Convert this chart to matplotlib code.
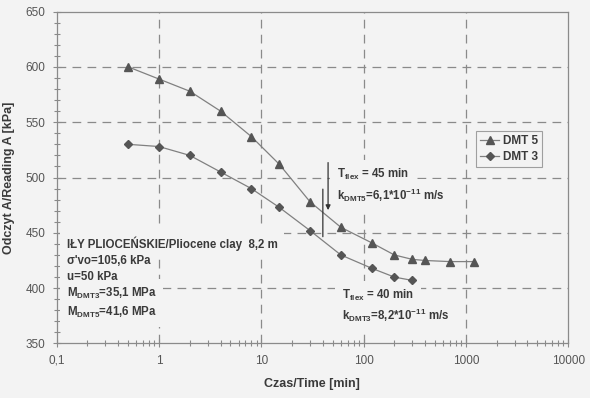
import matplotlib
matplotlib.use("Agg")
import matplotlib.pyplot as plt
from matplotlib.ticker import FixedLocator, MultipleLocator, LogLocator, NullFormatter

# ---------------- DATA ----------------
t_dmt5 = [0.5, 1, 2, 4, 8, 15, 30, 60, 120, 200, 300, 400, 700, 1200]
a_dmt5 = [600, 589, 578, 560, 537, 512, 478, 455, 441, 430, 426, 425, 424, 424]
t_dmt3 = [0.5, 1, 2, 4, 8, 15, 30, 60, 120, 200, 300]
a_dmt3 = [530, 528, 520, 505, 490, 473, 452, 430, 418, 410, 407]

x_ticks = [0.1, 1, 10, 100, 1000, 10000]
x_labels = ["0,1", "1", "10", "100", "1000", "10000"]

info = ["IŁY PLIOCEŃSKIE/Pliocene clay  8,2 m",
        "σ'vo=105,6 kPa",
        "u=50 kPa",
        r"M$_{\mathrm{DMT3}}$=35,1 MPa",
        r"M$_{\mathrm{DMT5}}$=41,6 MPa"]
info_y = [440.5, 424.5, 410.4, 395.3, 378.4]

flex_text = ["T$_{\\mathrm{flex}}$ = 45 min",
             "k$_{\\mathrm{DMT5}}$=6,1*10$^{\\mathrm{-11}}$ m/s",
             "T$_{\\mathrm{flex}}$ = 40 min",
             "k$_{\\mathrm{DMT3}}$=8,2*10$^{\\mathrm{-11}}$ m/s"]
flex_x = [55, 55, 61, 61]
flex_y = [502.4, 484.3, 393.6, 375]

BG = "#f3f3f3"
TXT = "#3a3a3a"
AX = "#8a8a8a"

plt.rcParams['font.family'] = ['Liberation Sans', 'DejaVu Sans']
plt.rcParams['mathtext.fontset'] = 'custom'
plt.rcParams['mathtext.rm'] = 'Liberation Sans:bold'
plt.rcParams['mathtext.bf'] = 'Liberation Sans:bold'
plt.rcParams['mathtext.it'] = 'Liberation Sans:bold'

fig = plt.figure(figsize=(5.9, 3.98), dpi=100, facecolor=BG)
ax = fig.add_axes([0.096, 0.137, 0.867, 0.834], facecolor=BG)

ax.set_xscale('log')
ax.set_xlim(0.1, 10000)
ax.set_ylim(350, 650)

# grid (dashed, major only)
for gx in [1, 10, 100, 1000]:
    ax.axvline(gx, color=AX, lw=0.9, ls=(0, (7, 5)), zorder=1)
for gy in [400, 450, 500, 550, 600]:
    ax.axhline(gy, color=AX, lw=0.9, ls=(0, (7, 5)), zorder=1)

# series
ax.plot(t_dmt5, a_dmt5, color="#808080", lw=0.9, marker='^', ms=5.5,
        mfc="#555555", mec="#555555", label="DMT 5", zorder=4)
ax.plot(t_dmt3, a_dmt3, color="#808080", lw=0.9, marker='D', ms=3.8,
        mfc="#555555", mec="#555555", label="DMT 3", zorder=4)

# ticks
ax.xaxis.set_major_locator(FixedLocator(x_ticks))
ax.set_xticklabels(x_labels)
ax.xaxis.set_minor_locator(LogLocator(base=10, subs=range(2, 10)))
ax.xaxis.set_minor_formatter(NullFormatter())
ax.yaxis.set_major_locator(MultipleLocator(50))
ax.yaxis.set_minor_locator(MultipleLocator(10))
ax.tick_params(which='both', direction='inout', colors=AX, labelcolor="#555555",
               labelsize=8.5, width=0.8)
ax.tick_params(which='major', length=6, pad=5)
ax.tick_params(which='minor', length=4)
for s in ax.spines.values():
    s.set_color(AX)
    s.set_linewidth(0.9)

ax.set_xlabel("Czas/Time [min]", color=TXT, fontsize=9, fontweight='bold', labelpad=8)
ax.set_ylabel("Odczyt A/Reading A [kPa]", color=TXT, fontsize=9, fontweight='bold', labelpad=8)


def label(x, y, s):
    # background mask first (hidden text), then the visible text on top
    ax.text(x, y, s, color='none', fontsize=8.3, fontweight='bold', va='center',
            ha='left', bbox=dict(facecolor=BG, edgecolor='none', pad=5), zorder=2)
    ax.text(x, y, s, color=TXT, fontsize=8.3, fontweight='bold', va='center',
            ha='left', zorder=3)


for line, yy in zip(info, info_y):
    label(0.125, yy, line)
for s, xx, yy in zip(flex_text, flex_x, flex_y):
    label(xx, yy, s)

ax.annotate("", xy=(45, 468), xytext=(45, 516),
            arrowprops=dict(arrowstyle='-|>', color="#333333", lw=0.9, mutation_scale=7),
            zorder=5)
ax.annotate("", xy=(40, 444), xytext=(40, 492),
            arrowprops=dict(arrowstyle='-', color="#333333", lw=0.9),
            zorder=5)

leg = ax.legend(loc='upper left', bbox_to_anchor=(0.82, 0.64), fontsize=8.5,
                frameon=True, fancybox=False, handlelength=1.6, handletextpad=0.3,
                borderpad=0.35, labelspacing=0.35, borderaxespad=0)
leg.get_frame().set_edgecolor(AX)
leg.get_frame().set_facecolor(BG)
leg.get_frame().set_linewidth(0.8)
for t in leg.get_texts():
    t.set_color(TXT)
    t.set_fontweight('bold')

fig.savefig("out.png", dpi=100, facecolor=BG)
